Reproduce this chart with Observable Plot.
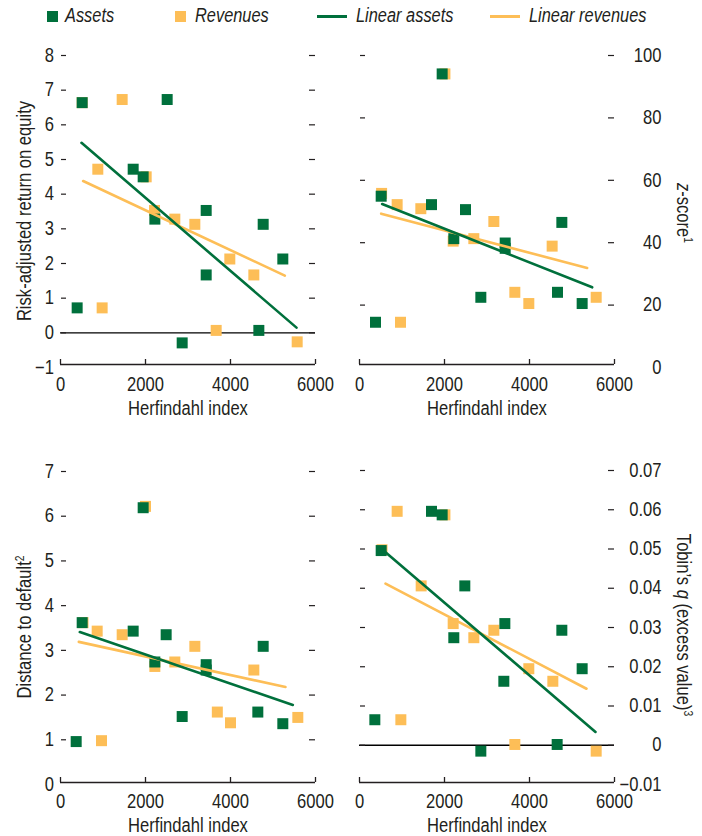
<!DOCTYPE html>
<html>
<head>
<meta charset="utf-8">
<script src="https://cdn.jsdelivr.net/npm/d3@7"></script>
<script src="https://cdn.jsdelivr.net/npm/@observablehq/plot@0.6"></script>
<style>
  html, body { margin: 0; padding: 0; background: #fff; }
  #root { position: relative; width: 702px; height: 836px; overflow: hidden; font-family: "Liberation Sans", Arial, sans-serif; color: #231f20; }
  .abs { position: absolute; white-space: nowrap; line-height: 0.8; }
  .title { font-size: 19.5px; transform: translate(-50%, -50%) scaleX(0.85); }
  .rotL { transform: translate(-50%, -50%) rotate(-90deg) scaleX(0.85); }
  .rotR { transform: translate(-50%, -50%) rotate(90deg) scaleX(0.85); }
  .leg { font-size: 19.5px; font-style: italic; transform-origin: 0 50%; transform: translateY(-50%) scaleX(0.84); }
  sup { font-size: 0.62em; vertical-align: 0.6em; line-height: 0; }
  svg { position: absolute; overflow: visible; }
</style>
</head>
<body>
<div id="root"></div>
<script>
// ---------- data ----------
const xTicks = [0, 2000, 4000, 6000];

// Panel 1: Risk-adjusted return on equity
const roeAssetsX = [392, 510, 2510, 1710, 1945, 2220, 3428, 3428, 2863, 4667, 4769, 5231];
const roeAssetsY = [0.72, 6.64, 6.73, 4.72, 4.50, 3.28, 3.53, 1.67, -0.29, 0.07, 3.13, 2.13];
const roeRevX = [980, 510, 1451, 878, 2016, 2212, 2690, 3161, 3984, 4549, 3663, 5569];
const roeRevY = [0.72, 6.64, 6.73, 4.72, 4.50, 3.53, 3.28, 3.13, 2.13, 1.67, 0.07, -0.26];
const roeAssetsLineX = [494, 5553];
const roeAssetsLineY = [5.48, 0.15];
const roeRevLineX = [533, 5278];
const roeRevLineY = [4.38, 1.65];
const roeTicks = [-1, 0, 1, 2, 3, 4, 5, 6, 7, 8];

// Panel 2: z-score
const zAssetsX = [376, 510, 1945, 1694, 2494, 2219, 3428, 3428, 2855, 4659, 4761, 5239];
const zAssetsY = [14.5, 54.9, 94.1, 52.2, 50.6, 41.3, 39.9, 38.2, 22.5, 24.1, 46.5, 20.5];
const zRevX = [965, 520, 2010, 886, 1443, 3161, 2204, 2690, 4533, 3655, 3984, 5569];
const zRevY = [14.5, 55.8, 94.1, 52.2, 50.9, 46.8, 40.5, 41.3, 38.9, 24.1, 20.5, 22.5];
const zAssetsLineX = [533, 5475];
const zAssetsLineY = [52.4, 25.7];
const zRevLineX = [510, 5357];
const zRevLineY = [49.3, 31.9];
const zTicks = [0, 20, 40, 60, 80, 100];

// Panel 3: Distance to default
const ddAssetsX = [369, 510, 1945, 1710, 2486, 2220, 3428, 3428, 2863, 4643, 4769, 5231];
const ddAssetsY = [0.96, 3.62, 6.19, 3.43, 3.35, 2.74, 2.68, 2.56, 1.52, 1.62, 3.09, 1.36];
const ddRevX = [965, 530, 863, 1451, 2000, 2220, 2690, 3161, 4549, 3690, 4000, 5584];
const ddRevY = [0.98, 3.62, 3.43, 3.35, 6.22, 2.64, 2.74, 3.09, 2.56, 1.62, 1.38, 1.50];
const ddAssetsLineX = [455, 5467];
const ddAssetsLineY = [3.41, 1.78];
const ddRevLineX = [431, 5294];
const ddRevLineY = [3.19, 2.18];
const ddTicks = [0, 1, 2, 3, 4, 5, 6, 7];

// Panel 4: Tobin's q
const tqAssetsX = [361, 510, 1694, 1945, 2478, 2219, 3420, 3396, 2855, 4651, 4761, 5239];
const tqAssetsY = [0.0065, 0.0496, 0.0596, 0.0587, 0.0406, 0.0274, 0.0310, 0.0163, -0.0015, 0.0002, 0.0293, 0.0195];
const tqRevX = [973, 530, 886, 2010, 1451, 2204, 2690, 3161, 3984, 4549, 3655, 5569];
const tqRevY = [0.0065, 0.0498, 0.0596, 0.0587, 0.0406, 0.0310, 0.0274, 0.0293, 0.0195, 0.0163, 0.0002, -0.0015];
const tqAssetsLineX = [612, 5553];
const tqAssetsLineY = [0.0492, 0.0034];
const tqRevLineX = [612, 5341];
const tqRevLineY = [0.0412, 0.0144];
const tqTicks = [-0.01, 0, 0.01, 0.02, 0.03, 0.04, 0.05, 0.06, 0.07];

// ---------- style ----------
const GREEN = "#00703c";
const ORANGE = "#fdbe57";
const INK = "#231f20";
const FONT = `"Liberation Sans", Arial, sans-serif`;
const SQUEEZE = 0.85;
const fmt = d => (d < 0 ? "\u2212" : "") + Math.abs(d);

const root = document.getElementById("root");

function panel(o) {
  const H = o.height - o.marginTop - o.marginBottom;
  const W = o.width - o.marginLeft - o.marginRight;
  const pts = (X, Y) => X.map((x, i) => ({x, y: Y[i]}));
  const ymin = o.yDomain[0];
  const dashTicks = o.yTicks.filter(t => t !== ymin);
  const marks = [];
  if (o.zero) marks.push(Plot.ruleY([0], {stroke: "#000", strokeWidth: 1.3}));
  marks.push(
    Plot.ruleY([ymin], {stroke: INK, strokeWidth: 1.3, dy: o.axisDy}),
    Plot.tickX(xTicks, {x: d => d, insetTop: H - 5, dy: o.axisDy, stroke: INK, strokeWidth: 1.3}),
    Plot.tickY(dashTicks, {y: d => d, insetLeft: 1, insetRight: W - 6, stroke: INK, strokeWidth: 1.2}),
    Plot.tickY(dashTicks, {y: d => d, insetLeft: W - 6, insetRight: 0, stroke: INK, strokeWidth: 1.2}),
    Plot.axisX(xTicks, {tickSize: 0, tickPadding: 10, tickFormat: fmt, label: null, fill: INK}),
    o.side === "left"
      ? Plot.axisY(o.yTicks, {anchor: "left", tickSize: 0, tickPadding: 6.5, tickFormat: fmt, label: null, fill: INK})
      : Plot.axisY(o.yTicks, {anchor: "right", tickSize: 0, tickPadding: 47, textAnchor: "end", tickFormat: fmt, label: null, fill: INK}),
    Plot.dot(pts(o.rX, o.rY), {x: "x", y: "y", symbol: "square", r: 6.2, fill: ORANGE}),
    Plot.dot(pts(o.aX, o.aY), {x: "x", y: "y", symbol: "square", r: 6.2, fill: GREEN}),
    Plot.line(pts(o.rLX, o.rLY), {x: "x", y: "y", stroke: ORANGE, strokeWidth: 2.6}),
    Plot.line(pts(o.aLX, o.aLY), {x: "x", y: "y", stroke: GREEN, strokeWidth: 2.6})
  );
  const svg = Plot.plot({
    width: o.width, height: o.height,
    marginLeft: o.marginLeft, marginRight: o.marginRight,
    marginTop: o.marginTop, marginBottom: o.marginBottom,
    x: {domain: [0, 6000]},
    y: {domain: o.yDomain},
    style: {fontFamily: FONT, fontSize: "19.5px", color: INK, background: "transparent", overflow: "visible"},
    marks
  });
  // condense tick labels horizontally (narrow face look)
  svg.querySelectorAll("text").forEach(t => {
    const tr = t.getAttribute("transform");
    if (tr) {
      t.setAttribute("transform", tr + ` scale(${SQUEEZE},1)`);
    } else {
      const x = +t.getAttribute("x") || 0, y = +t.getAttribute("y") || 0;
      t.removeAttribute("x"); t.removeAttribute("y");
      t.setAttribute("transform", `translate(${x},${y}) scale(${SQUEEZE},1)`);
    }
  });
  svg.style.left = o.left + "px";
  svg.style.top = o.top + "px";
  root.appendChild(svg);
}

panel({left: 0, top: 40, width: 345, height: 390, marginLeft: 60, marginRight: 30, marginTop: 15, marginBottom: 63,
  yDomain: [-1, 8], yTicks: roeTicks, side: "left", zero: true, axisDy: -3,
  aX: roeAssetsX, aY: roeAssetsY, rX: roeRevX, rY: roeRevY,
  aLX: roeAssetsLineX, aLY: roeAssetsLineY, rLX: roeRevLineX, rLY: roeRevLineY});

panel({left: 345, top: 40, width: 357, height: 390, marginLeft: 14, marginRight: 88, marginTop: 15, marginBottom: 63,
  yDomain: [0, 100], yTicks: zTicks, side: "right", zero: false, axisDy: -3,
  aX: zAssetsX, aY: zAssetsY, rX: zRevX, rY: zRevY,
  aLX: zAssetsLineX, aLY: zAssetsLineY, rLX: zRevLineX, rLY: zRevLineY});

panel({left: 0, top: 440, width: 345, height: 396, marginLeft: 60, marginRight: 30, marginTop: 31, marginBottom: 52,
  yDomain: [0, 7], yTicks: ddTicks, side: "left", zero: false, axisDy: -2,
  aX: ddAssetsX, aY: ddAssetsY, rX: ddRevX, rY: ddRevY,
  aLX: ddAssetsLineX, aLY: ddAssetsLineY, rLX: ddRevLineX, rLY: ddRevLineY});

panel({left: 345, top: 440, width: 357, height: 396, marginLeft: 14, marginRight: 88, marginTop: 30, marginBottom: 52,
  yDomain: [-0.01, 0.07], yTicks: tqTicks, side: "right", zero: true, axisDy: -2,
  aX: tqAssetsX, aY: tqAssetsY, rX: tqRevX, rY: tqRevY,
  aLX: tqAssetsLineX, aLY: tqAssetsLineY, rLX: tqRevLineX, rLY: tqRevLineY});

// ---------- titles & legend ----------
function addText(html, cls, x, y) {
  const d = document.createElement("div");
  d.className = "abs " + cls;
  d.style.left = x + "px";
  d.style.top = y + "px";
  d.innerHTML = html;
  root.appendChild(d);
}
addText("Herfindahl index", "title", 187.5, 409);
addText("Herfindahl index", "title", 486.5, 409);
addText("Herfindahl index", "title", 187.5, 826);
addText("Herfindahl index", "title", 486.5, 826);
addText("Risk-adjusted return on equity", "title rotL", 25, 211);
addText("Distance to default<sup>2</sup>", "title rotL", 25, 627);
addText("<i>z</i>-score<sup>1</sup>", "title rotR", 683, 213);
addText("Tobin\u2019s <i>q</i> (excess value)<sup>3</sup>", "title rotR", 683, 625);

function swatch(x, y, w, h, color) {
  const d = document.createElement("div");
  d.style.cssText = `position:absolute;left:${x}px;top:${y}px;width:${w}px;height:${h}px;background:${color}`;
  root.appendChild(d);
}
swatch(47, 11, 10.5, 10.5, GREEN);
addText("Assets", "leg", 65, 16);
swatch(175, 11, 10.5, 10.5, ORANGE);
addText("Revenues", "leg", 195, 16);
swatch(317, 15, 30, 3, GREEN);
addText("Linear assets", "leg", 356, 16);
swatch(490, 15, 30, 3, ORANGE);
addText("Linear revenues", "leg", 529, 16);
</script>
</body>
</html>
